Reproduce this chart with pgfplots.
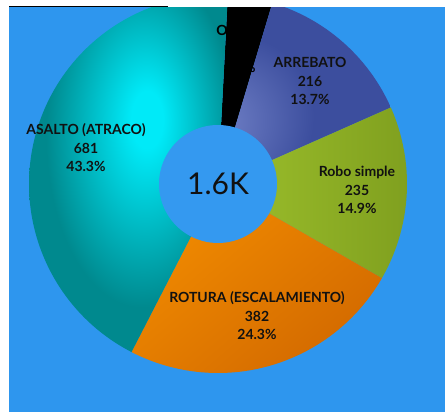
\documentclass[border=0pt]{standalone}
\usepackage{fontspec}
\setmainfont{Lato}
\usepackage{pgfplots}
\pgfplotsset{compat=1.18}

\definecolor{bgblue}{HTML}{2E96EE}
\definecolor{holeblue}{HTML}{3499F0}
\definecolor{arrebato}{HTML}{3C4E9E}
\definecolor{arrebatohi}{HTML}{7080C6}
\definecolor{roboL}{HTML}{9DC02C}
\definecolor{roboR}{HTML}{80A01F}
\definecolor{roturaA}{HTML}{F28C00}
\definecolor{roturaB}{HTML}{D36A00}
\definecolor{asaltohi}{HTML}{00EAF8}
\definecolor{asalto}{HTML}{00898E}
\definecolor{labeltxt}{HTML}{111111}

% soft glows seen on two of the slices
\pgfdeclareradialshading{asaltoglow}{\pgfpoint{5bp}{8bp}}{color(0bp)=(asaltohi); color(4bp)=(asaltohi); color(24bp)=(asalto); color(70bp)=(asalto)}
\pgfdeclareradialshading{arrebatoglow}{\pgfpoint{-28bp}{-9bp}}{color(0bp)=(arrebatohi); color(2bp)=(arrebatohi); color(22bp)=(arrebato); color(70bp)=(arrebato)}

% values, clockwise from the top
\def\vOtros{60}
\def\vArrebato{216}
\def\vRobo{235}
\def\vRotura{382}
\def\vAsalto{681}

\pgfmathsetmacro{\tot}{\vOtros+\vArrebato+\vRobo+\vRotura+\vAsalto}
\pgfmathsetmacro{\aA}{3}
\pgfmathsetmacro{\aB}{\aA+360*(\vOtros/\tot)}
\pgfmathsetmacro{\aC}{\aB+360*(\vArrebato/\tot)}
\pgfmathsetmacro{\aD}{\aC+360*(\vRobo/\tot)}
\pgfmathsetmacro{\aE}{\aD+360*(\vRotura/\tot)}
\pgfmathsetmacro{\aF}{\aE+360*(\vAsalto/\tot)}

\def\cx{218}
\def\cy{228}
\def\R{189}
\def\r{59}

\begin{document}
\begin{tikzpicture}
\begin{axis}[
  hide axis,
  scale only axis,
  width=445bp, height=412bp,
  xmin=0, xmax=445, ymin=0, ymax=412,
  clip=true,
  samples=90,
]
  % background
  \addplot[fill=bgblue, draw=none] coordinates {(9,0) (445,0) (445,405) (9,405)} -- cycle;

  % slices
  \addplot[draw=none, fill=black, domain=\aA:\aB, samples=30, variable=\t]
    ({\cx+\R*sin(\t)},{\cy+\R*cos(\t)}) -- (axis cs:\cx,\cy) -- cycle;
  \addplot[draw=none, shade, shading=arrebatoglow, domain=\aB:\aC, variable=\t]
    ({\cx+\R*sin(\t)},{\cy+\R*cos(\t)}) -- (axis cs:\cx,\cy) -- cycle;
  \addplot[draw=none, left color=roboL, right color=roboR, domain=\aC:\aD, variable=\t]
    ({\cx+\R*sin(\t)},{\cy+\R*cos(\t)}) -- (axis cs:\cx,\cy) -- cycle;
  \addplot[draw=none, top color=roturaA, bottom color=roturaB, shading angle=40, domain=\aD:\aE, variable=\t]
    ({\cx+\R*sin(\t)},{\cy+\R*cos(\t)}) -- (axis cs:\cx,\cy) -- cycle;
  \addplot[draw=none, shade, shading=asaltoglow, domain=\aE:\aF, samples=160, variable=\t]
    ({\cx+\R*sin(\t)},{\cy+\R*cos(\t)}) -- (axis cs:\cx,\cy) -- cycle;

  % hole
  \addplot[draw=none, fill=holeblue, domain=0:360, samples=120, variable=\t]
    ({\cx+\r*sin(\t)},{\cy+\r*cos(\t)}) -- cycle;

  % labels
  \begin{scope}[every node/.style={align=center, text=labeltxt,
      font=\fontsize{14bp}{18.5bp}\selectfont\bfseries}]
    \node[text=black] at (axis cs:240,363) {OTROS\\60\\3.8\%};
    \node at (axis cs:310,331) {ARREBATO\\216\\13.7\%};
    \node at (axis cs:357,222) {Robo simple\\235\\14.9\%};
    \node at (axis cs:257,96) {ROTURA (ESCALAMIENTO)\\382\\24.3\%};
    \node at (axis cs:86,264) {ASALTO (ATRACO)\\681\\43.3\%};
  \end{scope}
  \node[text=labeltxt, font=\fontsize{30bp}{36bp}\selectfont] at (axis cs:\cx,\cy) {1.6K};

  % white strip at the top and the thin dark rule
  \addplot[fill=white, draw=none] coordinates {(0,404.6) (445,404.6) (445,412) (0,412)} -- cycle;
  \addplot[black, line width=1bp] coordinates {(9,405.3) (168,405.3)};
\end{axis}
\end{tikzpicture}
\end{document}
